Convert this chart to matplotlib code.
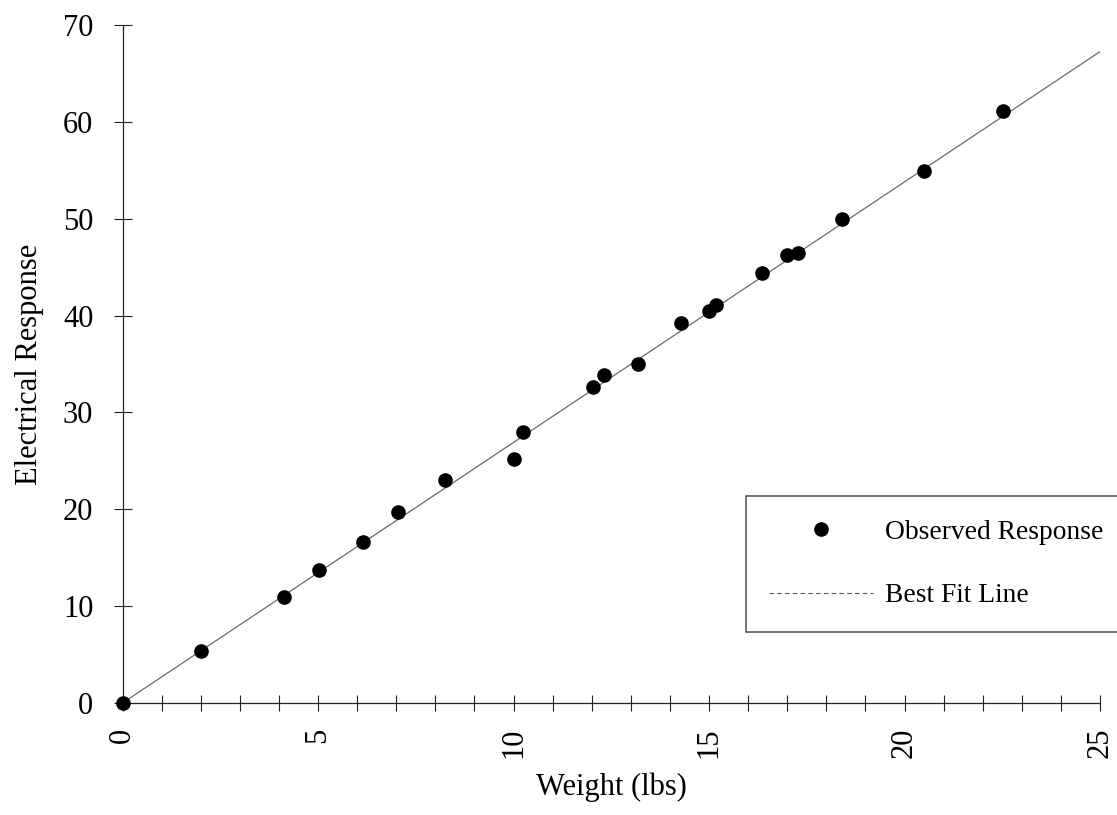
import matplotlib
matplotlib.use("Agg")
import matplotlib.pyplot as plt
from matplotlib.lines import Line2D
from matplotlib.ticker import MultipleLocator, FuncFormatter
import numpy as np

plt.rcParams['font.family'] = ['Liberation Serif', 'DejaVu Serif']

# Observed calibration readings
weight_lbs = [0.0, 2.01, 4.12, 5.03, 6.14, 7.05, 8.24, 10.02, 10.24, 12.03,
              12.31, 13.19, 14.29, 14.99, 15.19, 16.36, 16.99, 17.28, 18.39,
              20.49, 22.52]
response = [0.0, 5.4, 10.97, 13.7, 16.65, 19.7, 23.0, 25.2, 28.0, 32.66,
            33.9, 35.0, 39.2, 40.5, 41.1, 44.4, 46.3, 46.5, 50.0, 54.95, 61.1]

# Best fit line coefficients
fit_slope = 2.69
fit_intercept = 0.0
fit_x = [0.0, 25.0]

x_ticks_labeled = [0, 5, 10, 15, 20, 25]
y_ticks = [0, 10, 20, 30, 40, 50, 60, 70]

W, H = 1117, 815
fig = plt.figure(figsize=(W / 100, H / 100), dpi=100)
ax = fig.add_axes([122.5 / W, 1 - 703 / H, (1100 - 122.5) / W, (703 - 25) / H])

fx = np.array(fit_x)
ax.plot(fx, fit_slope * fx + fit_intercept, color='#6a6a6a', lw=0.9, zorder=2)
ax.plot(weight_lbs, response, 'o', color='black', ms=9.5, zorder=3, clip_on=False)

ax.set_xlim(0, 25)
ax.set_ylim(0, 70)

for s in ['top', 'right']:
    ax.spines[s].set_visible(False)
for s in ['left', 'bottom']:
    ax.spines[s].set_linewidth(0.9)
    ax.spines[s].set_color('#222222')

ax.xaxis.set_major_locator(MultipleLocator(1))
ax.xaxis.set_major_formatter(
    FuncFormatter(lambda v, p: f"{int(round(v))}" if int(round(v)) in x_ticks_labeled else ""))
ax.set_yticks(y_ticks)

ax.tick_params(axis='x', direction='inout', length=12, width=0.8, color='#222222',
               labelsize=22, pad=12, labelrotation=90)
ax.tick_params(axis='y', direction='inout', length=13, width=0.8, color='#222222',
               labelsize=22, pad=14.5)

ax.set_xlabel('Weight (lbs)', fontsize=22, labelpad=10)
ax.set_ylabel('Electrical Response', fontsize=22, labelpad=14)

handles = [
    Line2D([], [], marker='o', ls='none', color='black', ms=9.5),
    Line2D([], [], color='#555555', lw=0.8, ls=(0, (4, 3))),
]
leg = ax.legend(handles, ['Observed Response', 'Best Fit Line'],
                loc='upper left',
                bbox_to_anchor=(746 / W, 1 - 634 / H, (1200 - 746) / W, 138 / H),
                bbox_transform=fig.transFigure, mode='expand',
                fontsize=19.8, frameon=True, fancybox=False, borderaxespad=0,
                borderpad=0.85, labelspacing=1.4, handlelength=3.75,
                handletextpad=0.45)
leg.get_frame().set_edgecolor('#222222')
leg.get_frame().set_linewidth(1.1)

fig.savefig('out.png', dpi=100)
